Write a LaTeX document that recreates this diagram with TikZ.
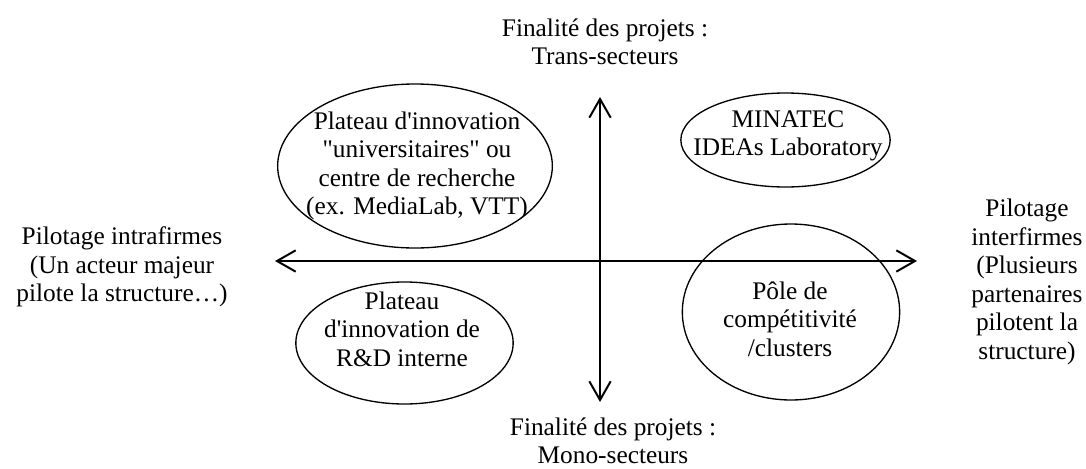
\documentclass[tikz,border=0pt]{standalone}
\usepackage{fontspec}
\setmainfont{Liberation Serif}[Ligatures=TeXOff]
\usetikzlibrary{shapes.geometric,arrows.meta}
\begin{document}
\begin{tikzpicture}[x=0.75pt,y=-0.75pt,
  bubble/.style={draw, ellipse, line width=1pt, inner sep=0pt},
  txt/.style={align=center, inner sep=0pt, font=\fontsize{19}{21.4}\selectfont},
  axis/.style={line width=1.5pt, {Straight Barb[length=14pt,width=16pt,line width=1.5pt]}-{Straight Barb[length=14pt,width=16pt,line width=1.5pt]}}
]
\useasboundingbox (0,0) rectangle (1086,468);

% axis end points
\coordinate (xl) at (275,261);
\coordinate (xr) at (917,261);
\coordinate (yt) at (600,97);
\coordinate (yb) at (600,402);

\draw[axis] (xl) -- (xr);
\draw[axis] (yt) -- (yb);

% ellipses
\node[bubble, minimum width=206pt, minimum height=123pt] (ul) at (415,166) {};
\node[txt] (ult) at (417,166) {Plateau d'innovation\\"universitaires" ou\\centre de recherche\\(ex. MediaLab, VTT)};

\node[bubble, minimum width=157pt, minimum height=70.5pt] (ur) at (785.5,140) {};
\node[txt] (urt) at (788,136) {MINATEC\\IDEAs Laboratory};

\node[bubble, minimum width=163pt, minimum height=132pt] (lr) at (791,312) {};
\node[txt] (lrt) at (790,319) {Pôle de\\compétitivité\\/clusters};

\node[bubble, minimum width=163pt, minimum height=91.5pt] (ll) at (404.5,343) {};
\node[txt] (llt) at (402,329) {Plateau\\d'innovation de\\R\&D interne};

% axis labels
\node[txt] (top) at (605,42) {Finalité des projets :\\Trans-secteurs};
\node[txt] (bot) at (613,441) {Finalité des projets :\\Mono-secteurs};
\node[txt] (left) at (122,267) {Pilotage intrafirmes\\(Un acteur majeur\\pilote la structure…)};
\node[txt] (right) at (1027,282) {Pilotage\\interfirmes\\(Plusieurs\\partenaires\\pilotent la\\structure)};
\end{tikzpicture}
\end{document}
